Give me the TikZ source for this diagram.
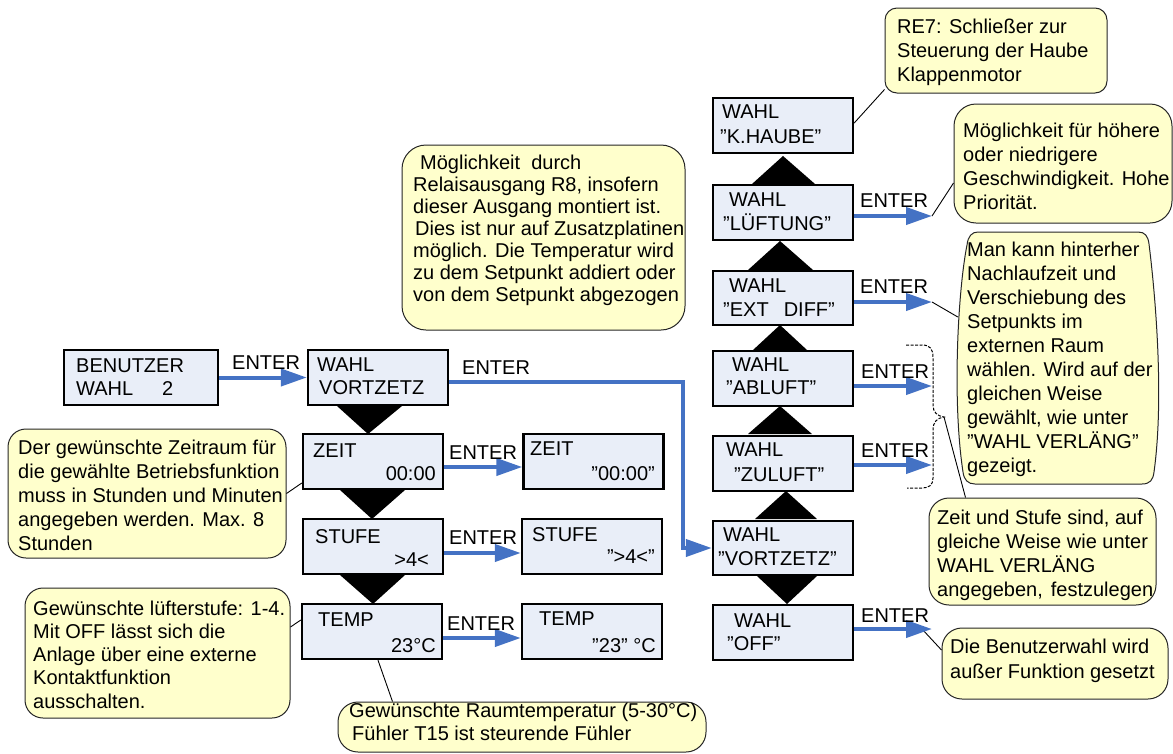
\documentclass[tikz,border=0pt]{standalone}
\usepackage{fontspec}
\setmainfont{Liberation Sans}
\usetikzlibrary{arrows.meta}
\definecolor{boxblue}{RGB}{233,238,248}
\definecolor{noteyellow}{RGB}{255,255,204}
\definecolor{arrowblue}{RGB}{68,114,196}
\newcommand\mylines[1]{\begin{tabular}[t]{@{}l@{}}#1\end{tabular}}
\begin{document}
\begin{tikzpicture}[x=1pt,y=-1pt,
  box/.style={draw=black, line width=2.4pt, fill=boxblue, inner sep=0pt, minimum width=140pt, minimum height=55pt},
  txt/.style={inner sep=0pt, anchor=base west, font=\fontsize{20}{24}\selectfont},
  txtr/.style={txt, anchor=base east},
  note/.style={draw=black!85, line width=1pt, fill=noteyellow, rounded corners=18pt, inner sep=0pt},
  enter/.style={draw=arrowblue, line width=4pt, -{Triangle[length=26pt,width=17pt]}},
  leader/.style={draw=black, line width=0.9pt},
  wedge/.style={fill=black},
]
\useasboundingbox (0,0) rectangle (1173,753);

% wedges between boxes
\fill[wedge] (337,406) -- (402,406) -- (368,434) -- cycle;
\fill[wedge] (340,490) -- (405,490) -- (372,519) -- cycle;
\fill[wedge] (340,575) -- (405,575) -- (373,604) -- cycle;
\fill[wedge] (752,184) -- (815,184) -- (783,156) -- cycle;
\fill[wedge] (748,270) -- (813,270) -- (780,241) -- cycle;
\fill[wedge] (753,350) -- (807,350) -- (780,325) -- cycle;
\fill[wedge] (748,434) -- (812,434) -- (780,406) -- cycle;
\fill[wedge] (755,519) -- (817,519) -- (786,491) -- cycle;
\fill[wedge] (757,576) -- (817,576) -- (787,604) -- cycle;

% coordinates for free arrow ends
\coordinate (tl) at (932,216);
\coordinate (te) at (932,302);
\coordinate (ta) at (932,386);
\coordinate (tz) at (932,465);
\coordinate (toff) at (932,629);
\coordinate (bend) at (683,382);
\coordinate (btip) at (944,417);

% callouts
\node[note, minimum width=278pt, minimum height=129pt] (c1) at (147,493.5) {};
\node[note, minimum width=265pt, minimum height=130pt] (c2) at (157.5,653) {};
\node[note, minimum width=368pt, minimum height=50pt, rounded corners=20pt] (c3) at (522,727) {};
\node[note, minimum width=283pt, minimum height=185pt, rounded corners=24pt] (c4) at (543.5,237.5) {};
\node[note, minimum width=222pt, minimum height=85pt, rounded corners=12pt] (c5) at (996,50.5) {};
\node[note, minimum width=218pt, minimum height=119pt, rounded corners=22pt] (c6) at (1063,163.5) {};
\node[inner sep=0pt, minimum width=206pt, minimum height=252pt] (c7) at (1058,358) {};
\draw[draw=black!85, line width=1pt, fill=noteyellow]
  (978,232) -- (1138,232) .. controls (1145,232) and (1148,236) .. (1149,244)
  .. controls (1156,300) and (1164,400) .. (1154,472)
  .. controls (1153,480) and (1150,484) .. (1142,484)
  -- (975,484) .. controls (968,484) and (964,480) .. (963,472)
  .. controls (952,400) and (958,290) .. (967,245)
  .. controls (968,236) and (972,232) .. (978,232) -- cycle;
\node[note, minimum width=227pt, minimum height=107pt, rounded corners=20pt] (c8) at (1042.5,551.5) {};
\node[note, minimum width=226pt, minimum height=71pt, rounded corners=20pt] (c9) at (1055,663.5) {};

% boxes
\node[box, minimum width=154pt] (ben) at (141,377.5) {};
\node[box] (vort) at (378,377.5) {};
\node[box] (zeit) at (373,461.5) {};
\node[box] (zeitv) at (593.5,461.5) {};
\node[box] (stufe) at (373,546.5) {};
\node[box] (stufev) at (592,546.5) {};
\node[box] (temp) at (372,631.5) {};
\node[box] (tempv) at (592,631.5) {};
\node[box] (khaube) at (783,125.5) {};
\node[box] (lueft) at (783,212.5) {};
\node[box, minimum height=54pt] (ext) at (783,298) {};
\node[box] (abl) at (783,378.5) {};
\node[box] (zul) at (783,463.5) {};
\node[box, minimum height=54pt] (vortz) at (783,548) {};
\node[box] (off) at (783,632.5) {};

% leader lines
\draw[leader] (c1.east) -- ([yshift=-21.5pt]zeit.west);
\draw[leader] ([yshift=26pt]c2.east) -- ([yshift=11.5pt]temp.west);
\draw[leader] ([xshift=6pt]temp.south) -- ([xshift=55pt]c3.north west);
\draw[leader] ([yshift=2.5pt]khaube.east) -- ([yshift=4pt]c5.south west);
\draw[leader] (tl) -- ([yshift=-19.5pt]c6.west);
\draw[leader] (te) -- ([xshift=3pt,yshift=41pt]c7.west);
\draw[leader] (btip) -- ([xshift=37pt]c8.north west);
\draw[leader] ([xshift=-10pt]toff) -- ([yshift=13.5pt]c9.west);

% dashed brace
\draw[line width=1pt, dash pattern=on 3pt off 1.5pt]
  (906,345) -- (922,345) .. controls (930,345) and (933,349) .. (933,357) -- (933,405)
  .. controls (933,412) and (937,416) .. (btip)
  .. controls (937,418) and (933,422) .. (933,430) -- (933,478)
  .. controls (933,485) and (929,488) .. (922,488) -- (907,488);

% ENTER arrows
\draw[enter] (ben) -- (vort);
\draw[enter, line join=miter] ([yshift=-4.5pt]vort.east) -- (bend) |- (vortz.west);
\draw[enter] ([yshift=-5.5pt]zeit.east) -- ([yshift=-5.5pt]zeitv.west);
\draw[enter] ([yshift=-6.5pt]stufe.east) -- ([yshift=-6.5pt]stufev.west);
\draw[enter] ([yshift=-6.5pt]temp.east) -- ([yshift=-6.5pt]tempv.west);
\draw[enter] (lueft.east |- tl) -- (tl);
\draw[enter] (ext.east |- te) -- (te);
\draw[enter] (abl.east |- ta) -- (ta);
\draw[enter] (zul.east |- tz) -- (tz);
\draw[enter] (off.east |- toff) -- (toff);

% ENTER labels
\node[txt] (e1) at (232,369) {ENTER};
\node[txt] (e2) at (462,374) {ENTER};
\node[txt] (e3) at (449,459) {ENTER};
\node[txt] (e4) at (449,544) {ENTER};
\node[txt] (e5) at (447,630) {ENTER};
\node[txt] (e6) at (860,207) {ENTER};
\node[txt] (e7) at (860,293) {ENTER};
\node[txt] (e8) at (861,378) {ENTER};
\node[txt] (e9) at (861,457) {ENTER};
\node[txt] (e10) at (861,622) {ENTER};

% box texts, left
\node[txt] (t1) at (76,372) {BENUTZER};
\node[txt] (t2) at (76,395) {WAHL};
\node[txt] (t3) at (162,395) {2};
\node[txt] (t4) at (317,371) {WAHL};
\node[txt] (t5) at (319,394) {VORTZETZ};
\node[txt] (t6) at (313,457) {ZEIT};
\node[txtr] (t7) at (436,480) {00:00};
\node[txt] (t8) at (530,455) {ZEIT};
\node[txtr] (t9) at (655,480) {”00:00”};
\node[txt] (t10) at (315,543) {STUFE};
\node[txtr] (t11) at (429,566) {>4<};
\node[txt] (t12) at (532,541) {STUFE};
\node[txtr] (t13) at (655,563) {”>4<”};
\node[txt] (t14) at (318,626) {TEMP};
\node[txtr] (t15) at (436,652) {23°C};
\node[txt] (t16) at (539,625) {TEMP};
\node[txtr] (t17) at (656,652) {”23" °C};

% box texts, right
\node[txt] (r1) at (722,118) {WAHL};
\node[txt] (r2) at (720,143) {”K.HAUBE”};
\node[txt] (r3) at (729,206) {WAHL};
\node[txt] (r4) at (723,230) {”LÜFTUNG”};
\node[txt] (r5) at (729,292) {WAHL};
\node[txt] (r6) at (723,316) {”EXT\hspace{15pt}DIFF”};
\node[txt] (r7) at (732,371) {WAHL};
\node[txt] (r8) at (726,394) {”ABLUFT”};
\node[txt] (r9) at (726,456) {WAHL};
\node[txt] (r10) at (734,481) {”ZULUFT”};
\node[txt] (r11) at (723,541) {WAHL};
\node[txt] (r12) at (718,565) {”VORTZETZ”};
\node[txt] (r13) at (734,627) {WAHL};
\node[txt] (r14) at (727,650) {”OFF”};

% callout texts
\node[txt] (n1) at (18,454) {\mylines{Der gewünschte Zeitraum für\\die gewählte Betriebsfunktion\\muss in Stunden und Minuten\\angegeben werden. Max. 8\\Stunden}};
\node[txt, font=\fontsize{20}{23.3}\selectfont] (n2) at (33,615) {\mylines{Gewünschte lüfterstufe: 1-4.\\Mit OFF lässt sich die\\Anlage über eine externe\\Kontaktfunktion\\ausschalten.}};
\node[txt, font=\fontsize{20}{23}\selectfont] (n3) at (349,717) {\mylines{Gewünschte Raumtemperatur (5-30°C)\\\hspace*{3pt}Fühler T15 ist steurende Fühler}};
\node[txt, font=\fontsize{20}{22}\selectfont] (n4) at (413,169) {\mylines{\hspace*{7pt}Möglichkeit\ \ durch\\Relaisausgang R8, insofern\\dieser Ausgang montiert ist.\\\hspace*{2pt}Dies ist nur auf Zusatzplatinen\\möglich. Die Temperatur wird\\zu dem Setpunkt addiert oder\\von dem Setpunkt abgezogen}};
\node[txt] (n5) at (897,33) {\mylines{RE7: Schließer zur\\Steuerung der Haube\\Klappenmotor}};
\node[txt] (n6) at (963,137) {\mylines{Möglichkeit für höhere\\oder niedrigere\\Geschwindigkeit. Hohe\\Priorität.}};
\node[txt] (n7) at (967,256) {\mylines{Man kann hinterher\\Nachlaufzeit und\\Verschiebung des\\Setpunkts im\\externen Raum\\wählen. Wird auf der\\gleichen Weise\\gewählt, wie unter\\”WAHL VERLÄNG”\\gezeigt.}};
\node[txt] (n8) at (937,524) {\mylines{Zeit und Stufe sind, auf\\gleiche Weise wie unter\\WAHL VERLÄNG\\angegeben,\hspace{8pt}festzulegen}};
\node[txt, font=\fontsize{20}{25}\selectfont] (n9) at (950,653) {\mylines{Die Benutzerwahl wird\\außer Funktion gesetzt}};
\end{tikzpicture}
\end{document}
